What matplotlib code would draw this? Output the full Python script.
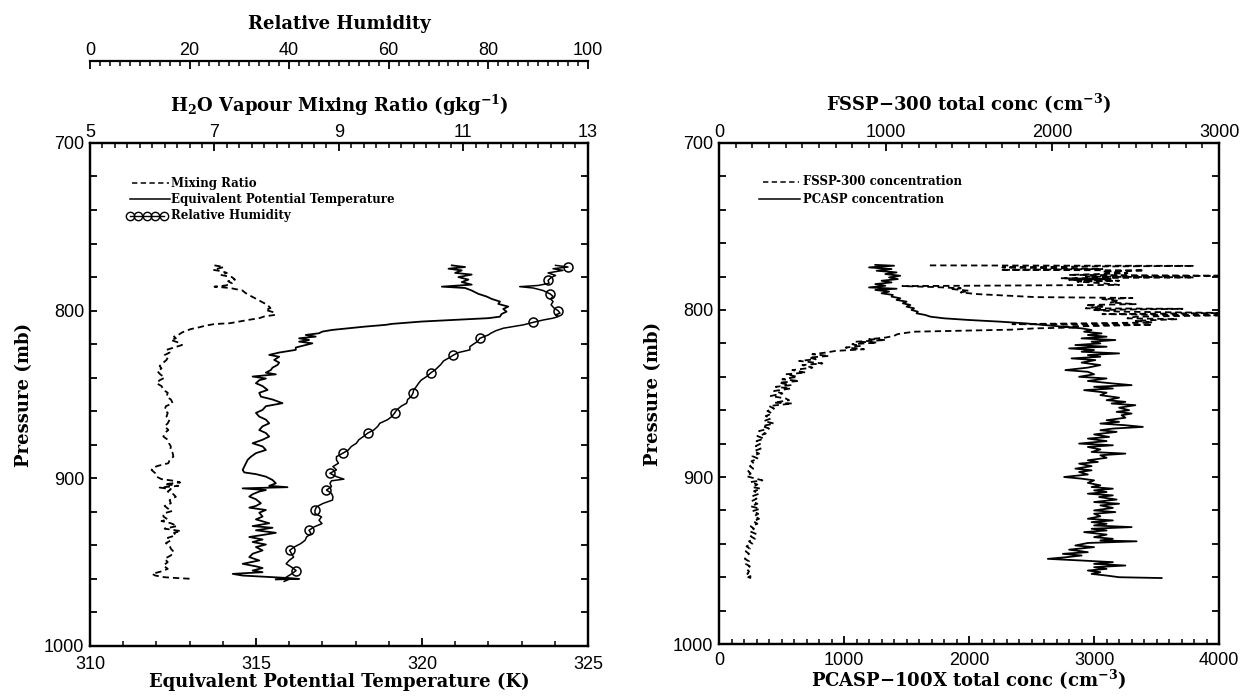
"""
Aircraft profile: thermodynamics (left) and aerosol / droplet counts (right)
----------------------------------------------------------------------------
Left panel: equivalent potential temperature, H2O mixing ratio and relative
humidity against pressure. Right panel: FSSP-300 and PCASP-100X total
concentrations against pressure.
"""

import matplotlib.pyplot as plt
from matplotlib.ticker import MultipleLocator

# ── Data ──────────────────────────────────────────────────────────────────────

# equivalent potential temperature (K) vs pressure (mb)
THETA_P = [773.0, 774.0, 775.0, 776.0, 777.5, 778.5, 780.0, 781.5, 783.0, 784.5,
           785.7, 786.5, 788.0, 790.0, 791.6, 793.0, 794.6, 796.0, 797.6, 799.0,
           800.6, 802.0, 803.6, 804.5, 805.6, 806.5, 807.9, 808.5, 809.5, 810.5,
           811.5, 812.5, 813.5, 814.5, 815.5, 816.5, 817.5, 818.5, 819.5, 821.0,
           822.0, 823.4, 825.0, 826.4, 827.5, 829.4, 831.0, 832.4, 834.0, 835.4,
           837.0, 838.0, 839.3, 840.5, 841.5, 843.3, 845.0, 847.3, 849.0, 851.3,
           853.0, 855.2, 857.0, 859.2, 861.0, 863.2, 865.0, 867.2, 869.0, 871.2,
           873.0, 875.1, 877.0, 879.1, 881.0, 883.1, 885.0, 887.1, 889.0, 891.0,
           893.0, 895.0, 896.5, 897.5, 899.0, 901.0, 903.0, 904.5, 905.3, 906.0,
           907.0, 907.9, 909.5, 910.9, 912.5, 914.9, 916.5, 917.5, 918.9, 920.5,
           922.8, 924.5, 926.8, 928.5, 929.5, 931.0, 932.5, 933.5, 935.0, 936.5,
           938.0, 939.5, 941.0, 943.0, 945.0, 947.0, 949.0, 951.0, 952.5, 953.5,
           955.0, 956.0, 957.0, 958.0, 959.0, 959.5, 960.0, 960.3]
THETA_E = [320.9, 321.3, 320.8, 321.2, 321.0, 321.5, 321.1, 321.4, 321.2, 321.5,
           320.6, 321.3, 321.5, 321.7, 321.95, 322.1, 322.35, 322.3, 322.6, 322.45,
           322.55, 322.4, 322.35, 322.0, 320.9, 320.0, 319.1, 318.9, 318.3, 317.8,
           317.3, 317.0, 316.9, 316.5, 316.8, 316.3, 316.6, 316.3, 316.7, 316.4,
           316.2, 316.2, 315.7, 315.4, 315.7, 315.55, 315.7, 315.65, 315.5, 315.45,
           315.3, 315.6, 314.9, 315.3, 315.1, 315.0, 315.2, 315.35, 315.1, 315.15,
           315.5, 315.8, 315.3, 315.2, 315.0, 315.1, 315.3, 315.4, 315.2, 315.1,
           315.3, 315.4, 315.2, 314.9, 315.2, 315.3, 315.0, 314.85, 314.75, 314.7,
           314.65, 314.6, 314.65, 315.0, 315.3, 315.5, 315.6, 315.4, 315.95, 314.6,
           315.3, 315.1, 314.9, 314.8, 315.0, 315.15, 315.0, 314.8, 315.3, 315.1,
           315.2, 315.0, 315.4, 314.9, 315.5, 315.0, 315.6, 315.3, 314.8, 315.2,
           314.9, 315.3, 315.0, 315.2, 314.9, 314.8, 315.1, 314.6, 315.0, 315.2,
           314.9, 315.2, 314.3, 314.6, 315.5, 316.0, 316.3, 315.6]

# H2O vapour mixing ratio (g/kg) vs pressure (mb)
MIX_P = [773.0, 774.0, 775.7, 776.5, 777.5, 778.7, 780.0, 781.5, 782.5, 783.7,
         785.0, 785.7, 786.5, 788.0, 789.5, 791.6, 793.5, 794.6, 796.5, 798.5,
         799.5, 801.0, 802.5, 803.5, 804.5, 805.5, 806.5, 807.5, 808.0, 809.0,
         810.0, 811.0, 812.0, 813.0, 814.5, 815.5, 816.5, 817.5, 819.0, 820.5,
         822.0, 823.4, 825.0, 826.5, 828.0, 829.4, 831.0, 833.0, 834.5, 836.0,
         838.0, 840.0, 841.5, 843.3, 845.0, 847.3, 849.0, 851.3, 853.0, 855.2,
         857.0, 859.2, 861.0, 863.2, 865.0, 867.2, 869.0, 871.2, 873.0, 875.1,
         877.0, 879.1, 881.0, 883.1, 885.0, 887.1, 889.0, 891.0, 892.5, 893.5,
         895.0, 897.0, 899.0, 900.5, 901.5, 902.5, 903.5, 904.5, 905.5, 906.5,
         907.9, 909.5, 911.0, 913.0, 914.9, 916.5, 918.0, 919.5, 921.0, 922.8,
         924.5, 925.5, 926.8, 928.5, 930.0, 931.5, 932.5, 934.0, 935.5, 937.0,
         938.7, 940.0, 942.0, 944.0, 946.0, 948.0, 950.0, 952.0, 954.0, 955.5,
         957.0, 958.0, 959.0, 959.5, 960.0]
MIX_R = [7.0, 7.15, 6.98, 7.12, 7.2, 7.1, 7.28, 7.33, 7.22, 7.28,
         7.18, 7.0, 7.25, 7.45, 7.5, 7.6, 7.7, 7.75, 7.85, 7.9,
         7.82, 7.95, 7.98, 7.8, 7.72, 7.55, 7.4, 7.25, 7.0, 6.85,
         6.75, 6.62, 6.55, 6.48, 6.42, 6.35, 6.38, 6.3, 6.42, 6.48,
         6.35, 6.23, 6.28, 6.2, 6.25, 6.23, 6.18, 6.12, 6.15, 6.08,
         6.13, 6.2, 6.12, 6.07, 6.15, 6.18, 6.25, 6.23, 6.3, 6.33,
         6.22, 6.2, 6.25, 6.23, 6.28, 6.25, 6.2, 6.26, 6.2, 6.18,
         6.25, 6.27, 6.3, 6.29, 6.33, 6.34, 6.28, 6.26, 6.1, 6.02,
         5.99, 6.05, 6.07, 6.15, 6.35, 6.45, 6.2, 6.42, 6.12, 6.3,
         6.25, 6.34, 6.38, 6.28, 6.3, 6.2, 6.25, 6.32, 6.18, 6.18,
         6.25, 6.15, 6.3, 6.4, 6.2, 6.46, 6.35, 6.38, 6.25, 6.3,
         6.22, 6.28, 6.3, 6.35, 6.3, 6.2, 6.25, 6.18, 6.25, 6.15,
         6.0, 6.05, 6.2, 6.4, 6.66]

# relative humidity (%) vs pressure (mb)
RH_P = [773.0, 774.0, 775.0, 776.0, 777.5, 779.0, 780.5, 782.0, 783.7, 785.0,
        785.7, 786.5, 788.0, 790.0, 791.5, 793.0, 794.6, 796.5, 798.5, 800.0,
        801.5, 802.5, 803.6, 804.5, 805.6, 807.0, 808.5, 810.5, 812.0, 813.5,
        814.5, 816.5, 818.5, 820.0, 821.5, 823.4, 825.0, 826.5, 828.0, 830.0,
        832.0, 834.0, 835.4, 837.0, 839.3, 841.5, 843.3, 845.5, 847.3, 849.0,
        851.3, 853.0, 855.2, 857.0, 859.2, 861.0, 863.2, 865.0, 867.2, 869.0,
        871.2, 873.0, 875.1, 877.0, 879.1, 881.0, 883.1, 885.0, 887.1, 889.0,
        891.0, 893.0, 895.0, 897.0, 899.0, 900.5, 901.5, 903.0, 905.0, 907.0,
        909.0, 911.0, 913.0, 915.0, 917.0, 919.0, 921.0, 923.0, 925.0, 927.0,
        929.0, 931.0, 933.0, 935.0, 937.0, 939.0, 941.0, 943.0, 945.0, 947.0,
        949.0, 951.0, 953.0, 955.0, 957.0, 959.0, 960.5, 961.5]
RH = [93.5, 96.0, 93.0, 95.0, 92.0, 93.5, 92.5, 92.0, 92.2, 90.0,
      86.3, 89.0, 91.0, 92.4, 93.0, 92.5, 93.0, 92.6, 93.2, 94.0,
      94.4, 93.5, 94.0, 93.0, 91.0, 89.0, 87.0, 83.0, 81.5, 80.5,
      80.0, 78.3, 77.8, 77.0, 76.3, 76.3, 74.0, 73.0, 72.2, 71.0,
      70.5, 69.8, 69.3, 68.5, 67.6, 66.5, 66.0, 65.5, 65.0, 64.9,
      64.5, 63.8, 63.6, 62.5, 61.6, 61.2, 60.6, 59.8, 58.2, 57.8,
      57.0, 55.8, 54.9, 54.0, 53.5, 52.5, 51.9, 50.8, 49.5, 49.5,
      49.9, 48.8, 49.5, 48.2, 49.5, 51.0, 48.5, 48.2, 48.5, 47.5,
      48.5, 48.8, 48.7, 46.8, 45.5, 45.2, 45.2, 46.5, 46.0, 46.6,
      45.0, 44.0, 44.4, 43.5, 43.2, 42.3, 41.0, 40.1, 40.5, 40.9,
      40.0, 39.4, 40.5, 41.4, 40.5, 39.4, 39.8, 39.0]

# PCASP-100X total concentration (cm-3) vs pressure (mb)
PCASP_P = [773.0, 773.5, 774.5, 775.5, 776.5, 777.5, 778.5, 779.5, 780.5, 781.5,
           782.5, 783.5, 784.5, 785.5, 786.5, 787.3, 788.0, 789.0, 790.0, 791.0,
           792.0, 793.0, 794.0, 795.0, 796.0, 797.0, 798.0, 799.0, 800.0, 801.0,
           802.0, 803.0, 804.0, 805.0, 806.0, 807.0, 808.0, 809.0, 810.0, 811.0,
           812.0, 813.0, 814.0, 815.0, 816.0, 817.0, 818.0, 819.0, 820.0, 821.0,
           822.0, 823.0, 824.0, 825.0, 826.0, 827.0, 828.0, 829.0, 830.0, 831.5,
           833.0, 834.5, 836.0, 837.0, 838.5, 840.0, 841.0, 842.5, 844.0, 845.0,
           846.0, 847.0, 848.0, 849.5, 851.0, 852.5, 854.0, 855.0, 856.0, 857.0,
           858.5, 860.0, 861.0, 862.0, 863.0, 864.5, 866.0, 867.0, 868.0, 869.0,
           870.0, 871.0, 872.0, 873.0, 874.5, 876.0, 877.0, 878.5, 880.0, 881.0,
           882.0, 883.5, 885.0, 886.0, 887.0, 888.5, 890.0, 891.0, 892.0, 893.5,
           895.0, 896.0, 897.0, 898.5, 900.0, 901.0, 902.0, 903.5, 905.0, 906.0,
           907.0, 908.0, 909.0, 910.0, 911.0, 912.0, 913.5, 915.0, 916.0, 917.0,
           918.5, 920.0, 921.0, 922.0, 923.5, 925.0, 926.0, 927.0, 928.0, 929.0,
           930.0, 931.0, 932.0, 933.0, 934.5, 936.0, 937.0, 938.0, 938.5, 939.5,
           941.0, 942.0, 943.5, 945.0, 946.0, 947.0, 948.0, 949.0, 950.0, 951.0,
           952.0, 953.0, 954.0, 955.0, 956.0, 957.0, 958.0, 959.0, 960.0, 960.5]
PCASP = [1250, 1400, 1200, 1380, 1260, 1420, 1330, 1450, 1360, 1430,
         1300, 1380, 1250, 1330, 1200, 1420, 1250, 1360, 1300, 1390,
         1380, 1450, 1420, 1500, 1470, 1530, 1500, 1560, 1540, 1590,
         1580, 1650, 1690, 1800, 2000, 2250, 2450, 2600, 2750, 2900,
         2980, 2920, 3060, 2950, 3100, 2900, 3170, 2980, 3050, 2850,
         3100, 2800, 3000, 2900, 3200, 2950, 3050, 2820, 3010, 2900,
         3050, 2950, 2770, 2950, 3000, 2880, 3100, 2950, 3150, 3300,
         3000, 3150, 2920, 3100, 3050, 3200, 3100, 3250, 3140, 3330,
         3200, 3280, 3180, 3300, 3220, 3250, 3100, 3200, 3050, 3250,
         3390, 3150, 3050, 3180, 3000, 3120, 2950, 3100, 2880, 3150,
         2950, 3050, 2980, 3250, 3050, 3100, 2950, 3030, 2880, 2980,
         2850, 2980, 2880, 2950, 2760, 2900, 3000, 2950, 3050, 2980,
         3150, 3000, 3100, 2950, 3150, 3040, 3180, 3000, 3200, 3050,
         3150, 3000, 3170, 3000, 3050, 2950, 3150, 2980, 3100, 3000,
         3300, 2980, 3100, 2920, 3100, 3000, 3150, 3050, 3340, 2950,
         2850, 3000, 2800, 2950, 2750, 2900, 2780, 2630, 2900, 3150,
         3000, 3250, 3000, 3100, 2950, 3050, 2980, 3100, 3200, 3540]

# FSSP-300 total concentration (cm-3) vs pressure (mb)
FSSP_P = [773.3, 773.6, 774.0, 774.5, 775.0, 775.5, 776.0, 776.3, 777.0, 778.0,
          779.0, 779.5, 780.0, 780.5, 781.0, 781.5, 782.0, 782.5, 783.0, 784.0,
          785.0, 785.7, 786.3, 787.0, 787.5, 788.5, 789.5, 790.5, 791.5, 792.3,
          792.8, 793.5, 794.5, 795.5, 796.5, 797.0, 798.0, 799.0, 799.3, 800.0,
          801.0, 801.8, 802.5, 803.2, 804.0, 805.0, 805.5, 806.5, 807.5, 808.5,
          808.8, 809.5, 810.0, 810.5, 811.0, 811.8, 812.5, 813.0, 814.0, 814.5,
          815.5, 816.5, 817.5, 818.0, 819.0, 819.5, 820.5, 821.5, 822.5, 823.5,
          824.5, 825.5, 826.5, 827.5, 828.5, 829.5, 830.5, 832.0, 833.0, 834.5,
          836.0, 837.5, 838.5, 840.0, 841.5, 842.5, 843.5, 845.0, 846.0, 847.0,
          848.5, 850.0, 851.5, 853.0, 854.0, 855.5, 856.0, 857.5, 859.0, 860.5,
          862.0, 863.5, 865.0, 866.5, 868.0, 869.5, 871.0, 872.5, 874.0, 875.5,
          877.0, 878.5, 880.0, 881.5, 883.0, 884.5, 886.0, 887.5, 889.0, 890.5,
          892.0, 893.5, 895.0, 896.5, 898.0, 899.5, 901.0, 902.0, 903.0, 904.5,
          906.0, 907.0, 908.5, 910.0, 911.5, 913.0, 914.5, 916.0, 917.5, 919.0,
          920.5, 922.0, 923.5, 925.0, 926.5, 928.0, 929.5, 931.0, 932.5, 934.0,
          935.5, 937.0, 938.5, 940.0, 941.5, 943.0, 944.5, 946.0, 947.5, 949.0,
          950.5, 952.0, 953.5, 955.0, 956.5, 958.0, 959.0, 960.0, 960.8]
FSSP = [1265, 2850, 2200, 1700, 2000, 2300, 1690, 2550, 2300, 2450,
        2100, 3050, 2200, 2850, 2050, 2350, 2100, 2400, 2150, 2300,
        2400, 1100, 1300, 1450, 1400, 1500, 1450, 1550, 1750, 1900,
        2480, 2300, 2400, 2350, 2500, 2200, 2300, 2200, 2780, 2250,
        2400, 3050, 2300, 3050, 2500, 2450, 2750, 2500, 2600, 1760,
        2600, 2300, 2050, 2130, 1900, 1750, 1400, 1170, 1100, 1070,
        1050, 1000, 900, 1000, 820, 950, 800, 850, 760, 870,
        700, 640, 560, 660, 540, 580, 480, 620, 500, 560,
        440, 520, 400, 470, 380, 480, 360, 430, 340, 430,
        330, 380, 310, 400, 420, 330, 440, 300, 330, 290,
        320, 280, 310, 270, 330, 260, 300, 240, 280, 230,
        270, 225, 250, 220, 250, 210, 240, 200, 235, 195,
        210, 185, 205, 175, 190, 165, 220, 260, 190, 230,
        200, 250, 210, 240, 200, 225, 195, 230, 190, 245,
        200, 235, 210, 240, 205, 230, 190, 210, 185, 220,
        190, 215, 180, 200, 165, 185, 160, 180, 165, 155,
        180, 160, 185, 165, 180, 170, 195, 175, 205]

# ── Style ──────────────────────────────────────────────────────────────────────

plt.rcParams.update({
    "font.family": ["Liberation Sans", "DejaVu Sans"],  # tick labels: Helvetica-like
    "font.size": 13,
    "mathtext.fontset": "dejavuserif",                  # bold serif sub/superscripts
    "mathtext.default": "bf",
    "axes.linewidth": 1.6,
})
LABEL_FONT = {"family": "DejaVu Serif", "weight": "bold", "size": 13}
KEY_FONT = {"family": "DejaVu Serif", "weight": "bold", "size": 8.5}
DASH = (0, (3.5, 2.2))   # short dashes of the original
LW = 1.3


def style_x(ax, lo, hi, major, minor, ticks=None, pad=1.5):
    """Set limits and inward ticks of an x axis."""
    ax.set_xlim(lo, hi)
    if ticks is None:
        ax.xaxis.set_major_locator(MultipleLocator(major))
    else:
        ax.set_xticks(ticks)
    ax.xaxis.set_minor_locator(MultipleLocator(minor))
    ax.tick_params(axis="x", which="major", direction="in", length=6, width=1.3, pad=pad)
    ax.tick_params(axis="x", which="minor", direction="in", length=3.5, width=1.1)


def style_pressure(ax):
    """Pressure axis, 700 mb at the top, ticks on both sides."""
    ax.set_ylim(1000, 700)
    ax.yaxis.set_major_locator(MultipleLocator(100))
    ax.yaxis.set_minor_locator(MultipleLocator(20))
    ax.tick_params(axis="y", which="both", direction="in", left=True, right=True,
                   length=5, width=1.3, pad=4)
    ax.set_ylabel("Pressure (mb)", fontdict=LABEL_FONT, labelpad=8)


fig = plt.figure(figsize=(12.44, 6.97), dpi=100)

# ── Left panel: theta-e, mixing ratio, relative humidity ──────────────────────

ax_l = fig.add_axes([0.0723, 0.0732, 0.4003, 0.7217])
style_pressure(ax_l)
style_x(ax_l, 310, 325, 5, 1, pad=7)
ax_l.set_xlabel("Equivalent Potential Temperature (K)", fontdict=LABEL_FONT, labelpad=0)
ax_l.plot(THETA_E, THETA_P, color="black", lw=LW)

ax_w = ax_l.twiny()                                        # mixing ratio scale on top
style_x(ax_w, 5, 13, 2, 0.2, ticks=[5, 7, 9, 11, 13])
ax_w.set_xlabel("H$_2$O Vapour Mixing Ratio (gkg$^{-1}$)", fontdict=LABEL_FONT, labelpad=9)
ax_w.plot(MIX_R, MIX_P, color="black", lw=LW, ls=DASH)

ax_rh = ax_l.twiny()                                       # relative humidity scale, detached above
ax_rh.spines["top"].set_position(("axes", 1.163))
for side in ("left", "right", "bottom"):
    ax_rh.spines[side].set_visible(False)
style_x(ax_rh, 0, 100, 20, 2)
ax_rh.set_xlabel("Relative Humidity", fontdict=LABEL_FONT, labelpad=9)
ax_rh.plot(RH, RH_P, color="black", lw=1.1, marker="o", markersize=6.5,
           markerfacecolor="none", markeredgewidth=1.1, markevery=(1, 6))

# hand-drawn key, as in the original
tr = ax_l.transAxes
ax_l.plot([0.085, 0.158], [0.920, 0.920], transform=tr, color="black", lw=1.1, ls=DASH)
ax_l.plot([0.080, 0.160], [0.888, 0.888], transform=tr, color="black", lw=1.1)
ax_l.plot([0.080, 0.097, 0.114, 0.131, 0.148], [0.855] * 5, transform=tr, color="black",
          lw=1.0, marker="o", markersize=6, markerfacecolor="none", markeredgewidth=1.0)
ax_l.text(0.163, 0.920, "Mixing Ratio", transform=tr, va="center", fontdict=KEY_FONT)
ax_l.text(0.163, 0.888, "Equivalent Potential Temperature", transform=tr, va="center",
          fontdict=KEY_FONT)
ax_l.text(0.163, 0.855, "Relative Humidity", transform=tr, va="center", fontdict=KEY_FONT)

# ── Right panel: PCASP and FSSP-300 concentrations ────────────────────────────

ax_r = fig.add_axes([0.578, 0.0760, 0.402, 0.7189])
style_pressure(ax_r)
style_x(ax_r, 0, 4000, 1000, 100, pad=6)
ax_r.set_xlabel("PCASP$-$100X total conc (cm$^{-3}$)", fontdict=LABEL_FONT, labelpad=-1)
ax_r.plot(PCASP, PCASP_P, color="black", lw=LW)

ax_f = ax_r.twiny()                                        # FSSP scale on top
style_x(ax_f, 0, 3000, 1000, 100)
ax_f.set_xlabel("FSSP$-$300 total conc (cm$^{-3}$)", fontdict=LABEL_FONT, labelpad=9)
ax_f.plot(FSSP, FSSP_P, color="black", lw=LW, ls=DASH)

tr = ax_r.transAxes
ax_r.plot([0.087, 0.160], [0.923, 0.923], transform=tr, color="black", lw=1.1, ls=DASH)
ax_r.plot([0.080, 0.162], [0.888, 0.888], transform=tr, color="black", lw=1.1)
ax_r.text(0.168, 0.923, "FSSP-300 concentration", transform=tr, va="center", fontdict=KEY_FONT)
ax_r.text(0.168, 0.888, "PCASP concentration", transform=tr, va="center", fontdict=KEY_FONT)

fig.savefig("out.png", dpi=100)
